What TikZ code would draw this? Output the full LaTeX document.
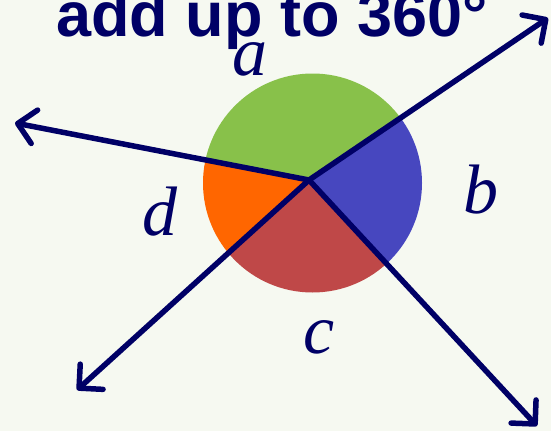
\documentclass[tikz,border=0pt]{standalone}
\usepackage{fontspec}
\setmainfont{Liberation Serif}
\newfontfamily\titlefont{Liberation Sans}
\usetikzlibrary{arrows.meta}
\definecolor{bgc}{HTML}{F6F9F1}
\definecolor{navy}{HTML}{000066}
\definecolor{secgreen}{HTML}{88C14A}
\definecolor{secblue}{HTML}{4747BF}
\definecolor{secred}{HTML}{BF4848}
\definecolor{secorange}{HTML}{FF6600}
\tikzset{
  ray/.style={draw=navy, line width=5.5pt, line cap=round,
    -{Straight Barb[length=17pt,width=34pt,line width=5.5pt,round]}},
  lbl/.style={text=navy, font=\fontsize{70}{80}\selectfont\itshape, inner sep=0pt, anchor=base},
  ttl/.style={text=navy, font=\titlefont\bfseries\fontsize{63}{70}\selectfont, inner sep=0pt, anchor=base west}
}
\begin{document}
\begin{tikzpicture}[x=1pt,y=-1pt]
\useasboundingbox (0,0) rectangle (551,431);
\fill[bgc] (0,0) rectangle (551,431);
\coordinate (V) at (309,180);
\coordinate (L) at (15,123);
\coordinate (UR) at (548,18);
\coordinate (LL) at (77,390);
\coordinate (LR) at (537,426);
\begin{scope}
  \clip (312.5,183) circle (109.5);
  \fill[secgreen] (V) -- (L) -- (15,-100) -- (560,-100) -- (UR) -- cycle;
  \fill[secblue] (V) -- (UR) -- (560,18) -- (560,440) -- (LR) -- cycle;
  \fill[secred] (V) -- (LR) -- (537,440) -- (77,440) -- (LL) -- cycle;
  \fill[secorange] (V) -- (LL) -- (0,390) -- (0,123) -- (L) -- cycle;
\end{scope}
\draw[ray] (V) -- (L);
\draw[ray] (V) -- (UR);
\draw[ray] (V) -- (LL);
\draw[ray] (V) -- (LR);
\node[ttl] (title) at (56,36) {add up to 360°};
\node[lbl] (la) at (250,75) {a};
\node[lbl] (lb) at (481,213) {b};
\node[lbl] (lc) at (319,353) {c};
\node[lbl] (ld) at (160,235) {d};
\end{tikzpicture}
\end{document}
